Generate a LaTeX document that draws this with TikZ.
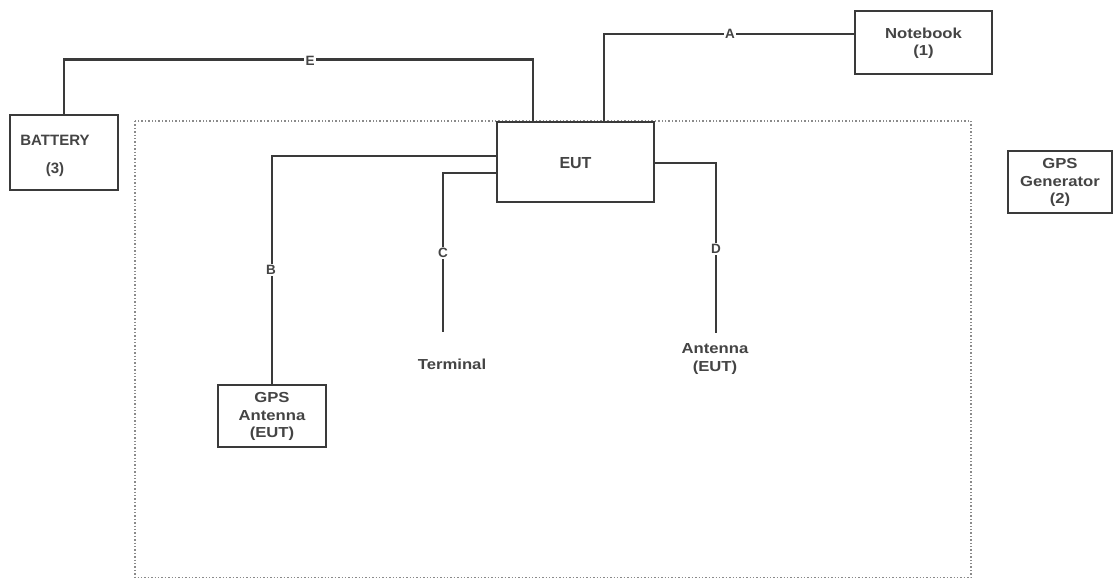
\documentclass[tikz,border=0pt]{standalone}
\usepackage{fontspec}
\setmainfont[FakeStretch=1.15]{Liberation Sans}
\newfontfamily\plainsans{Liberation Sans}
\definecolor{wire}{HTML}{3A3A3A}
\definecolor{ink}{HTML}{444444}
\definecolor{frame}{HTML}{8A8A8A}
\begin{document}
\begin{tikzpicture}[x=1pt,y=-1pt,
  box/.style={draw=wire, line width=2.6pt, fill=white, inner sep=0pt},
  txt/.style={text=ink, font=\bfseries\fontsize{14.5}{17.5}\selectfont, align=center, inner sep=1pt},
  lbl/.style={text=ink, fill=white, font=\plainsans\bfseries\fontsize{13.5}{15}\selectfont, inner sep=1.5pt},
  cable/.style={draw=wire, line width=2.6pt},
  area/.style={draw=frame, line width=1.4pt, dotted}]
\useasboundingbox (0,0) rectangle (1114,579);
\fill[white] (0,0) rectangle (1114,579);
% test area
\draw[area] (135,121) rectangle (971,577.5);
% boxes
\node[box, minimum width=108pt, minimum height=75pt] (bat) at (64,152.5) {};
\node[txt, font=\plainsans\bfseries\fontsize{15}{19}\selectfont] (battxt) at (55,156) {BATTERY\\[9pt](3)};
\node[box, minimum width=137pt, minimum height=63pt] (nb) at (923.5,42.5) {};
\node[txt] (nbtxt) at (923.5,43) {Notebook\\(1)};
\node[box, minimum width=104pt, minimum height=62pt] (gen) at (1060,182) {};
\node[txt] (gentxt) at (1060,182.5) {GPS\\Generator\\(2)};
\node[box, minimum width=157pt, minimum height=80pt] (eut) at (575.5,162) {};
\node[txt, font=\plainsans\bfseries\fontsize{16}{18}\selectfont] (euttxt) at (575.5,163) {EUT};
\node[box, minimum width=108pt, minimum height=62pt] (ga) at (272,416) {};
\node[txt] (gatxt) at (272,416.5) {GPS\\Antenna\\(EUT)};
\node[txt] (term) at (452,364) {Terminal};
\node[txt] (ant) at (715,359) {Antenna\\(EUT)};
\coordinate (cT) at (443,332);
\coordinate (dT) at (716,333);
% cables
\draw[cable] (bat.north) |- ([xshift=-42.5pt,yshift=61pt]eut.north) -- ([xshift=-42.5pt]eut.north);
\draw[cable] ([xshift=28.5pt]eut.north) |- ([yshift=8.5pt]nb.west);
\draw[cable] ([yshift=6pt]eut.west) -| (ga.north);
\draw[cable] ([yshift=-11pt]eut.west) -| (cT);
\draw[cable] ([yshift=-1pt]eut.east) -| (dT);
% cable labels
\node[lbl] (lA) at (730,34) {A};
\node[lbl] (lB) at (271,270) {B};
\node[lbl] (lC) at (443,253) {C};
\node[lbl] (lD) at (716,249) {D};
\node[lbl] (lE) at (310,61) {E};
\end{tikzpicture}
\end{document}
